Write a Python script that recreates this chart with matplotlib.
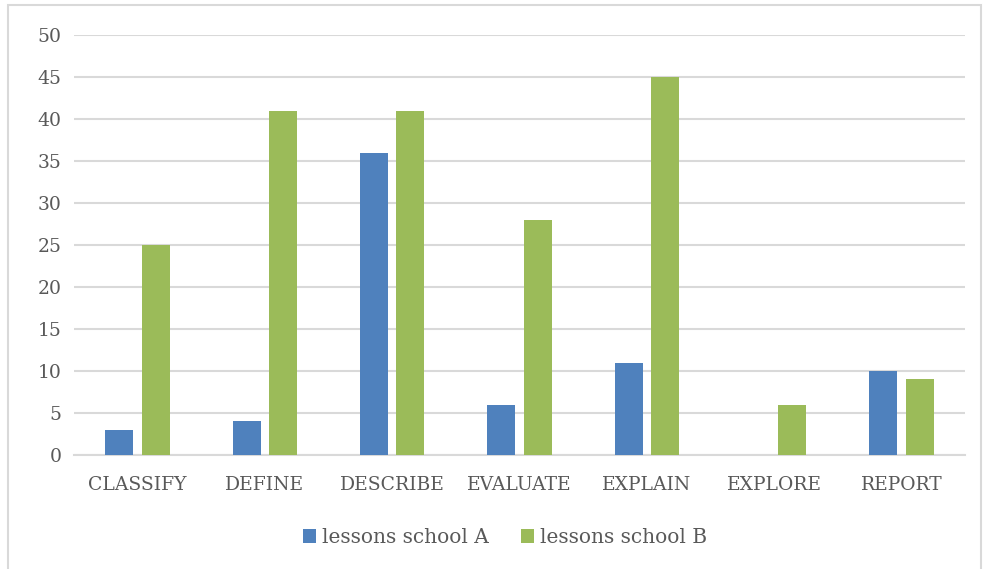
import numpy as np
import matplotlib
matplotlib.use("Agg")
import matplotlib.pyplot as plt
from matplotlib.patches import Rectangle

categories = ["CLASSIFY", "DEFINE", "DESCRIBE", "EVALUATE", "EXPLAIN", "EXPLORE", "REPORT"]
school_a = [3, 4, 36, 6, 11, 0, 10]
school_b = [25, 41, 41, 28, 45, 6, 9]
labels = ["lessons school A", "lessons school B"]

plt.rcParams['font.family'] = ['DejaVu Serif']

fig = plt.figure(figsize=(9.83, 5.69), dpi=100)
ax = fig.add_axes([0.0753, 0.2003, 0.9064, 0.7382])

# outer chart frame
fig.patches.append(Rectangle((8 / 983, -0.01), 973 / 983, 1 - 5 / 569 + 0.01,
                             transform=fig.transFigure, fill=False,
                             edgecolor='#D9D9D9', linewidth=1.5))

x = np.arange(len(categories))
w = 0.22
ax.bar(x - 0.143, school_a, w, color='#4F81BD', label=labels[0], zorder=3)
ax.bar(x + 0.143, school_b, w, color='#9BBB59', label=labels[1], zorder=3)

ax.set_xlim(-0.5, len(categories) - 0.5)
ax.set_ylim(0, 50)
ax.set_yticks(np.arange(0, 51, 5))
ax.set_xticks(x)
ax.set_xticklabels(categories)
ax.grid(axis='y', color='#D9D9D9', linewidth=1.5, zorder=0)
for s in ['top', 'right', 'left']:
    ax.spines[s].set_visible(False)
ax.spines['bottom'].set_color('#D9D9D9')
ax.spines['bottom'].set_linewidth(1.5)
ax.tick_params(axis='both', length=0, labelsize=13.5, colors='#595959')
ax.tick_params(axis='y', pad=9)
ax.tick_params(axis='x', pad=15)

fig.legend(loc='center', bbox_to_anchor=(0.514, 0.055), ncol=2, frameon=False,
           fontsize=14.5, handlelength=0.65, handleheight=0.65, columnspacing=1.6,
           handletextpad=0.3, labelcolor='#595959')

fig.savefig("out.png", dpi=100)
